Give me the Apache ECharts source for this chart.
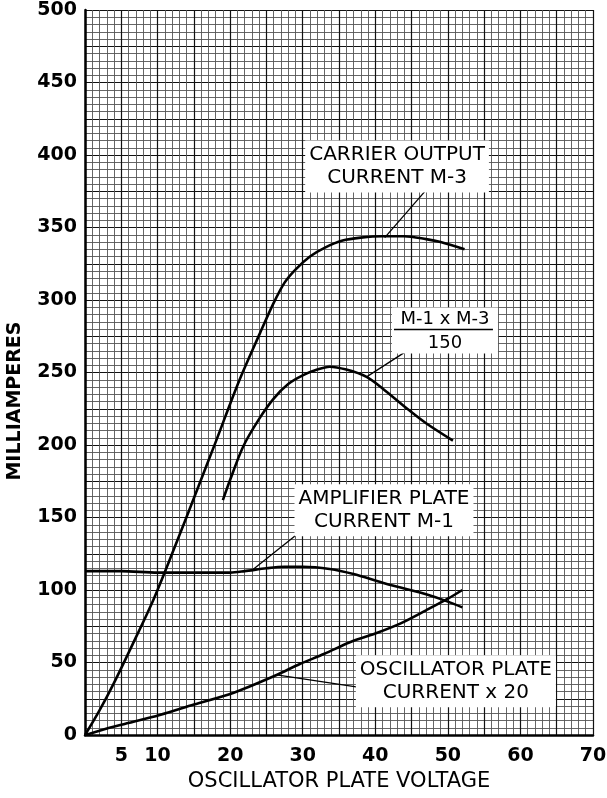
<!DOCTYPE html>
<html>
<head>
<meta charset="utf-8">
<script src="https://cdn.jsdelivr.net/npm/echarts@6/dist/echarts.min.js"></script>
<style>
  html, body { margin: 0; padding: 0; background: #fff; }
  #chart { width: 607px; height: 798px; }
</style>
</head>
<body>
<div id="chart"></div>
<script>
// x tick labels shown under the axis
const xTicks = [5, 10, 20, 30, 40, 50, 60, 70];

// carrier output current M-3
const carrierX = [0, 2, 4, 6.6, 9.4, 12, 15.6, 18, 21.3, 24.1, 26, 27.5, 29, 31, 33, 35.5, 38, 41, 44, 47, 49, 52.3];
const carrierY = [0, 17, 36, 63, 93, 125, 171, 202, 245, 277, 298, 312, 321, 330, 336, 341, 343, 344, 344, 342, 340, 335];

// M-1 x M-3 / 150
const productX = [19, 20, 21.8, 24, 26, 28, 30, 32, 33.7, 36, 38.8, 41, 44.4, 47, 50.7];
const productY = [162, 176, 199, 218, 232, 242, 248, 252, 254, 252, 247, 239, 225, 215, 203];

// amplifier plate current M-1
const ampX = [0, 5, 10, 15, 20, 22, 25, 27.5, 30, 33.7, 37, 41, 44, 47, 50, 52];
const ampY = [113, 113, 112, 112, 112, 113, 115, 116, 116, 114.5, 111, 105, 101, 97, 92, 88];

// oscillator plate current x 20
const oscX = [0, 2, 5, 10.3, 15, 20.4, 26.4, 29.6, 33, 36.5, 40, 43.5, 47, 50, 52];
const oscY = [0, 3, 7, 13.8, 21, 29, 41.4, 49, 56, 64, 70, 77, 86, 94, 100];

// annotation text and anchors (data coordinates)
const notes = [
  { text: 'CARRIER OUTPUT\nCURRENT M-3', at: [43, 392] },
  { text: 'AMPLIFIER PLATE\nCURRENT M-1', at: [41.2, 155] },
  { text: 'OSCILLATOR PLATE\nCURRENT x 20', at: [51.1, 37] }
];
const fracTop = 'M-1 x M-3';
const fracBottom = '150';
const fracAt = [49.6, 279];
const yName = 'MILLIAMPERES';

// leader lines: [from, to]
const pointers = [
  [[47.2, 377], [41.3, 343]],
  [[45, 267], [38.8, 247]],
  [[31.4, 147], [23.1, 114]],
  [[37.6, 33], [26.4, 41.4]]
];

const font = 'DejaVu Sans';
const pair = (xs, ys) => xs.map((x, i) => [x, ys[i]]);

const chart = echarts.init(document.getElementById('chart'));

const curve = (xs, ys) => ({
  type: 'line',
  data: pair(xs, ys),
  smooth: 0.3,
  showSymbol: false,
  silent: true,
  lineStyle: { color: '#000', width: 2.6 },
  z: 5
});

const option = {
  animation: false,
  backgroundColor: '#fff',
  grid: { left: 85, top: 10, right: 14, bottom: 63, outerBoundsMode: 'none' },
  xAxis: {
    type: 'value',
    min: 0, max: 70, interval: 5,
    name: 'OSCILLATOR PLATE VOLTAGE',
    nameLocation: 'middle',
    nameGap: 31,
    nameTextStyle: { fontFamily: font, fontSize: 21, color: '#000' },
    axisLine: { show: true, onZero: false, lineStyle: { color: '#000', width: 2.5 } },
    axisTick: { show: false },
    axisLabel: {
      margin: 12,
      fontFamily: font, fontSize: 19, fontWeight: 'bold', color: '#000',
      formatter: v => (xTicks.indexOf(v) >= 0 ? String(v) : '')
    },
    splitLine: { show: true, lineStyle: { color: '#111', width: 1.2 } },
    minorTick: { show: false, splitNumber: 5 },
    minorSplitLine: { show: true, lineStyle: { color: '#555', width: 0.9 } }
  },
  yAxis: {
    type: 'value',
    min: 0, max: 500, interval: 25,
    axisLine: { show: true, onZero: false, lineStyle: { color: '#000', width: 2.5 } },
    axisTick: { show: false },
    axisLabel: {
      margin: 8,
      fontFamily: font, fontSize: 19, fontWeight: 'bold', color: '#000',
      formatter: v => (v % 50 === 0 ? String(v) : '')
    },
    splitLine: { show: true, lineStyle: { color: '#111', width: 1.2 } },
    minorTick: { show: false, splitNumber: 5 },
    minorSplitLine: { show: true, lineStyle: { color: '#555', width: 0.9 } }
  },
  series: [
    curve(carrierX, carrierY),
    curve(productX, productY),
    curve(ampX, ampY),
    curve(oscX, oscY)
  ].concat(pointers.map(p => ({
    type: 'line',
    data: p,
    showSymbol: false,
    silent: true,
    lineStyle: { color: '#000', width: 1.3 },
    z: 6
  })))
};
chart.setOption(option);

// text boxes placed from data anchors
const px = p => chart.convertToPixel({ gridIndex: 0 }, p);
const graphics = notes.map(n => {
  const [cx, cy] = px(n.at);
  return {
    type: 'text',
    x: cx, y: cy,
    z: 10,
    style: {
      text: n.text,
      align: 'center',
      verticalAlign: 'middle',
      font: '20px "' + font + '"',
      lineHeight: 23,
      fill: '#000',
      backgroundColor: '#fff',
      padding: [3, 4]
    }
  };
});
const [fx, fy] = px(fracAt);
graphics.push(
  { type: 'rect', shape: { x: fx - 53, y: fy - 23, width: 106, height: 46 }, style: { fill: '#fff' }, z: 10 },
  { type: 'text', x: fx, y: fy - 11, z: 11,
    style: { text: fracTop, align: 'center', verticalAlign: 'middle', font: '18px "' + font + '"', fill: '#000' } },
  { type: 'line', shape: { x1: fx - 51, y1: fy - 1, x2: fx + 48, y2: fy - 1 }, style: { stroke: '#000', lineWidth: 1.6 }, z: 11 },
  { type: 'text', x: fx, y: fy + 13, z: 11,
    style: { text: fracBottom, align: 'center', verticalAlign: 'middle', font: '18px "' + font + '"', fill: '#000' } },
  { type: 'text', x: 15, y: 401, rotation: Math.PI / 2, z: 11,
    style: { text: yName, align: 'center', verticalAlign: 'middle', font: 'bold 19px "' + font + '"', fill: '#000' } }
);
chart.setOption({ graphic: graphics });
</script>
</body>
</html>
